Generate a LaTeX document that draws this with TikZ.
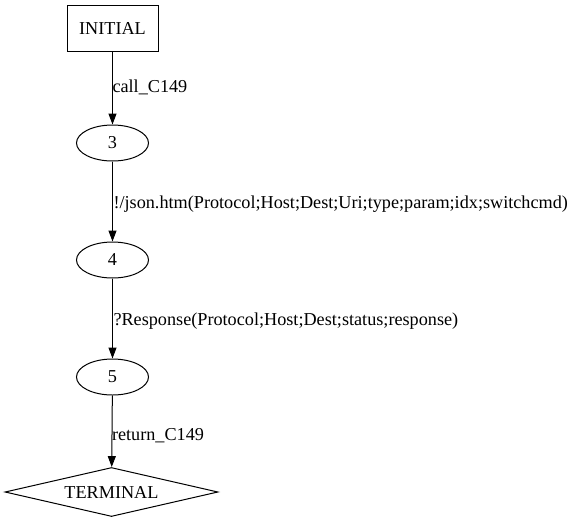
\documentclass[tikz,border=0pt]{standalone}
\usepackage{fontspec}
\setmainfont{Liberation Serif}
\usetikzlibrary{shapes.geometric,arrows.meta}
\begin{document}
\begin{tikzpicture}[x=1pt,y=-1pt,
  every node/.style={font=\fontsize{18.2pt}{20pt}\selectfont},
  boxnode/.style={draw,line width=1pt,minimum width=91pt,minimum height=46pt,inner sep=0pt},
  ellnode/.style={draw,ellipse,line width=1pt,minimum width=72pt,minimum height=36pt,inner sep=0pt},
  dianode/.style={draw,diamond,aspect=4.35,line width=1pt,minimum width=213pt,minimum height=49pt,inner sep=0pt},
  conn/.style={draw,line width=1pt,-{Triangle[length=11pt,width=8pt]}},
  lab/.style={anchor=west,inner sep=0pt}]
\useasboundingbox (0,0) rectangle (571,523);
\node[boxnode] (init) at (112.5,28) {INITIAL};
\node[ellnode] (s3) at (112.5,143) {3};
\node[ellnode] (s4) at (112.5,260) {4};
\node[ellnode] (s5) at (112.5,377) {5};
\node[dianode] (term) at (111.5,492) {TERMINAL};
\draw[conn] (init) -- (s3) node[lab,pos=0.47,xshift=-0.5pt,yshift=-2pt] (l1) {call\_C149};
\draw[conn] (s3) -- (s4) node[lab,pos=0.5,xshift=0.5pt,yshift=-3pt] (l2) {!/json.htm(Protocol;Host;Dest;Uri;type;param;idx;switchcmd)};
\draw[conn] (s4) -- (s5) node[lab,pos=0.5,xshift=0.5pt,yshift=-3pt] (l3) {?Response(Protocol;Host;Dest;status;response)};
\draw[conn] (s5) -- (term) node[lab,pos=0.5,xshift=-0.5pt,yshift=-4pt] (l4) {return\_C149};
\end{tikzpicture}
\end{document}
